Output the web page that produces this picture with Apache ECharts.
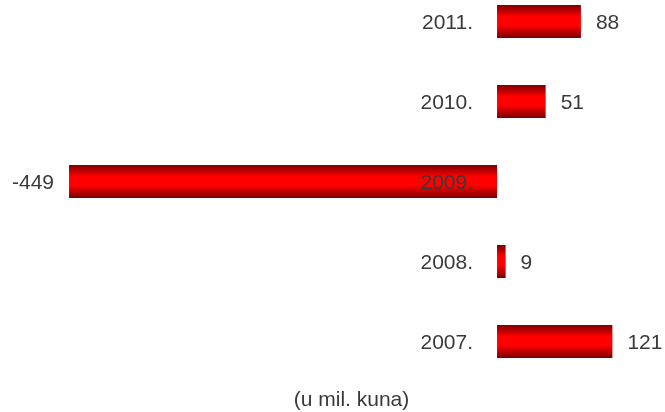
<!DOCTYPE html>
<html><head><meta charset="utf-8">
<script src="https://cdn.jsdelivr.net/npm/echarts@6/dist/echarts.min.js"></script>
<style>html,body{margin:0;padding:0;background:#fff}#c{width:665px;height:412px}</style>
</head><body><div id="c"></div>
<script>
const categories = ['2007.', '2008.', '2009.', '2010.', '2011.'];
const values = [121, 9, -449, 51, 88];
const unitLabel = '(u mil. kuna)';

const chart = echarts.init(document.getElementById('c'), null, {renderer: 'canvas'});
const font = 'Liberation Sans, Arial, sans-serif';
const grad = new echarts.graphic.LinearGradient(0, 0, 0, 1, [
  {offset: 0, color: '#7a0000'},
  {offset: 0.35, color: '#ff0000'},
  {offset: 0.62, color: '#ff0000'},
  {offset: 1, color: '#7a0000'}
]);
chart.setOption({
  animation: false,
  grid: {left: 0, right: 0, top: -18.5, bottom: 30.5, containLabel: false, outerBoundsMode: 'none'},
  xAxis: {
    type: 'value', min: -521.4, max: 176.2,
    axisLine: {show: false}, axisTick: {show: false},
    axisLabel: {show: false}, splitLine: {show: false}
  },
  yAxis: {
    type: 'category', data: categories, z: 10, position: 'left', offset: -497,
    axisLine: {show: false, onZero: false},
    axisTick: {show: false},
    splitLine: {show: false},
    axisLabel: {margin: 24, fontSize: 21, color: '#3a3a3a', fontFamily: font, hideOverlap: false,
      formatter: '{a|{value}}',
      rich: {a: {fontSize: 21, color: '#3a3a3a', fontFamily: font, padding: [4, 0, 0, 0]}}}
  },
  series: [{
    type: 'bar', barWidth: 33,
    data: values.map(v => v < 0 ? {value: v, label: {position: 'left'}} : v),
    itemStyle: {color: grad},
    label: {
      show: true, distance: 15, fontSize: 21, color: '#3a3a3a', fontFamily: font,
      position: 'right', offset: [0, 1.5]
    }
  }],
  graphic: [{
    type: 'text', x: 351.5, y: 400,
    style: {text: unitLabel, fontSize: 21, fill: '#3a3a3a', fontFamily: font,
      textAlign: 'center', textVerticalAlign: 'middle'}
  }]
});
</script>
</body></html>
